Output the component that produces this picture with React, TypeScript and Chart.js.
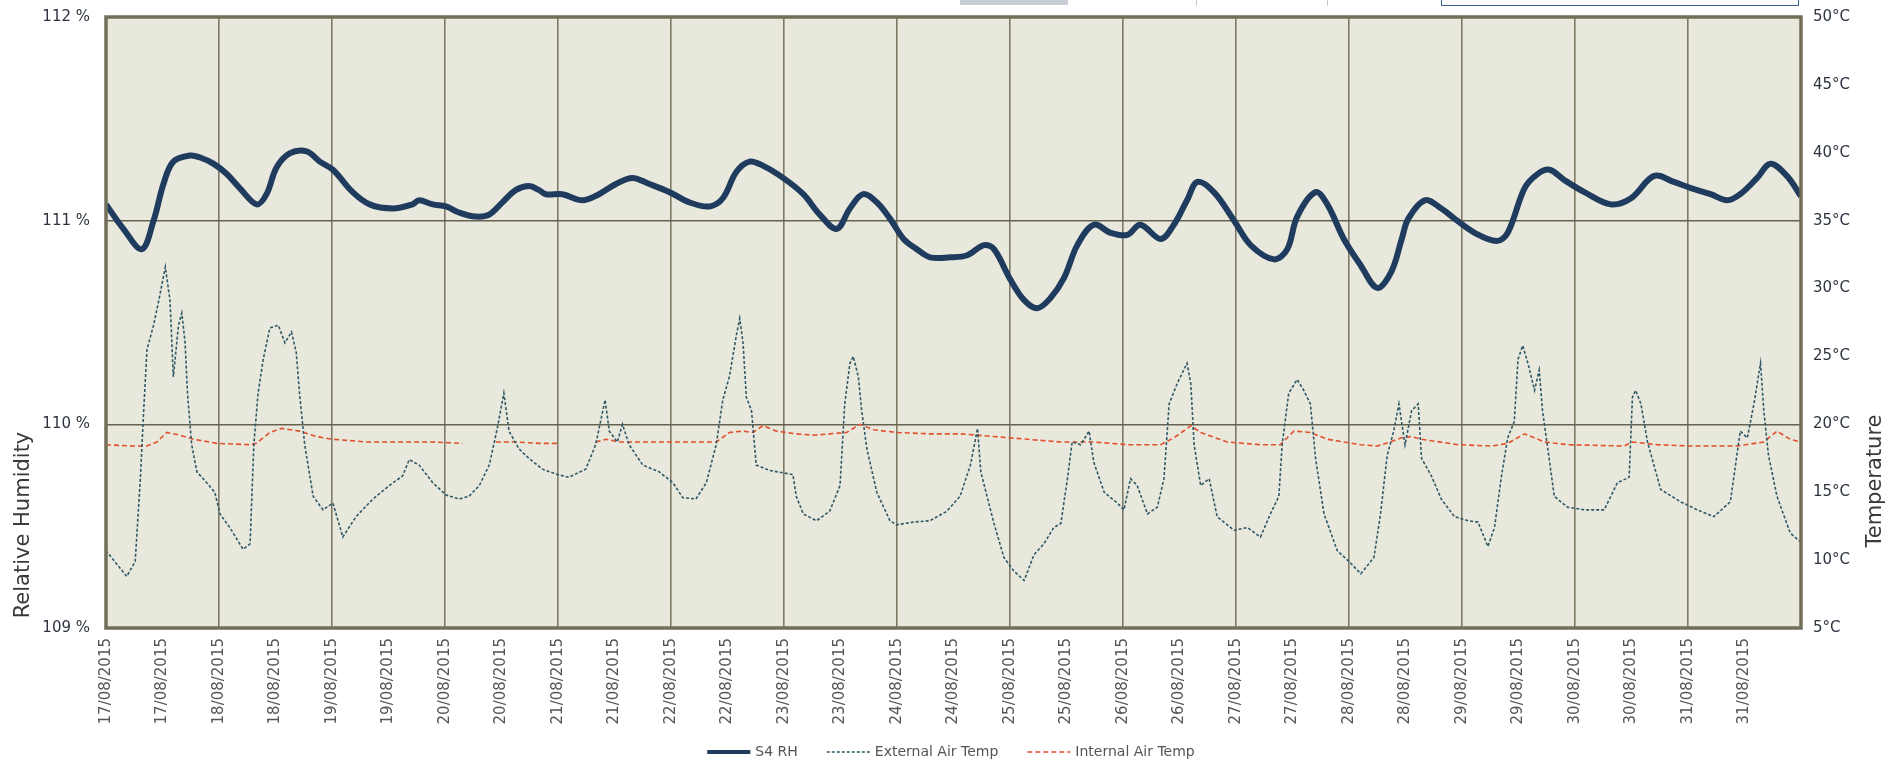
import React, { useEffect, useRef } from 'react';
import { Chart, registerables } from 'chart.js';

Chart.register(...registerables);

// Day labels (each appears at 00:00 and 12:00)
const dayLabels = [
  '17/08/2015', '18/08/2015', '19/08/2015', '20/08/2015', '21/08/2015',
  '22/08/2015', '23/08/2015', '24/08/2015', '25/08/2015', '26/08/2015',
  '27/08/2015', '28/08/2015', '29/08/2015', '30/08/2015', '31/08/2015',
];

const rhTicks = [109, 110, 111, 112];
const tempTicks = [5, 10, 15, 20, 25, 30, 35, 40, 45, 50];

// S4 RH (hours since 17/08/2015 00:00, %)
const rhHours = [
  0, 3.7, 7.6, 10.1, 12.2, 14.3, 17.9, 20, 22.8, 25.6, 28.4, 32, 34.1, 36.2, 39, 42.6, 45.4, 48.2,
  52.4, 56, 60.9, 65.1, 66.5, 69.4, 72.2, 75, 78.5, 81.4, 84.2, 87, 89.8, 92, 93.4, 96.9, 101.2,
  104.7, 108.3, 111.8, 115.4, 119.7, 123.9, 128.2, 131, 133.9, 136.7, 139.5, 143.8, 148.1, 151.6,
  155.2, 158, 160.8, 163.7, 166.5, 169.4, 172.2, 175, 179.3, 182.9, 186.5, 188.6, 192.1, 195,
  197.8, 200.6, 203.5, 206.3, 209.8, 213.4, 216.9, 219.7, 224, 226.8, 229.6, 231.8, 235.3, 239.6,
  243.1, 248.1, 250.9, 253, 256.9, 259.4, 262.9, 266.5, 270, 273, 275.2, 276.6, 280.1, 283.6,
  286.4, 290.7, 295.3, 297.7, 301.3, 304.1, 306.6, 309.7, 314, 319.6, 323.9, 328.8, 333, 336.6,
  340.8, 344.3, 347.1, 350.7, 353.5, 357, 360,
];
const rhValues = [
  111.08, 110.96, 110.86, 111.0, 111.18, 111.29, 111.32, 111.31, 111.28, 111.23, 111.16, 111.08,
  111.13, 111.26, 111.33, 111.34, 111.29, 111.25, 111.14, 111.08, 111.06, 111.08, 111.1, 111.08,
  111.07, 111.04, 111.02, 111.03, 111.09, 111.15, 111.17, 111.15, 111.13, 111.13, 111.1, 111.13,
  111.18, 111.21, 111.18, 111.14, 111.09, 111.07, 111.11, 111.24, 111.29, 111.27, 111.21, 111.13,
  111.03, 110.96, 111.06, 111.13, 111.09, 111.01, 110.91, 110.86, 110.82, 110.82, 110.83, 110.88,
  110.86, 110.71, 110.61, 110.57, 110.62, 110.72, 110.88, 110.98, 110.94, 110.93, 110.98, 110.91,
  110.98, 111.1, 111.19, 111.14, 111.0, 110.88, 110.81, 110.86, 111.02, 111.14, 111.08, 110.91,
  110.78, 110.67, 110.75, 110.91, 111.01, 111.1, 111.06, 111.01, 110.94, 110.9, 110.94, 111.16,
  111.23, 111.25, 111.2, 111.14, 111.08, 111.11, 111.22, 111.19, 111.16, 111.13, 111.1, 111.13,
  111.21, 111.28, 111.22, 111.12,
];

// External Air Temp (hours, °C)
const extHours = [
  0, 2.3, 4.4, 6.2, 7.3, 8.0, 8.7, 10.1, 11.2, 12.6, 13.6, 14.3, 15.4, 16.1, 16.8, 17.3, 18.2, 19.3,
  21.4, 23.1, 24.2, 26.3, 29.1, 30.6, 31.4, 32.3, 33.4, 34.8, 36.6, 38.0, 39.4, 40.4, 41.1, 42.2,
  44.0, 46.1, 48.2, 50.3, 53.1, 56.7, 60.2, 63.0, 64.4, 66.5, 69.4, 72.2, 75.0, 77.1, 79.3, 81.4,
  83.1, 84.5, 85.6, 87.7, 89.8, 92.7, 95.9, 98.3, 101.9, 104.0, 106.0, 106.9, 108.6, 109.7, 111.1,
  114.0, 117.5, 120.4, 122.5, 125.3, 127.5, 129.6, 131.0, 132.4, 133.9, 134.6, 135.3, 136.0, 137.1,
  138.1, 141.0, 145.9, 146.6, 148.1, 150.9, 153.7, 155.9, 156.9, 158.0, 158.7, 159.8, 160.5, 161.6,
  163.7, 166.5, 167.9, 171.5, 175.0, 178.6, 181.4, 183.6, 185.1, 185.8, 188.6, 190.7, 192.8, 195.0,
  197.1, 199.2, 201.3, 202.8, 204.2, 205.2, 207.0, 208.8, 209.8, 212.0, 214.8, 216.2, 217.6, 219.0,
  221.2, 223.3, 224.7, 225.8, 227.5, 229.6, 230.4, 231.1, 232.5, 234.3, 236.0, 239.6, 242.4, 245.2,
  247.3, 249.1, 249.8, 251.2, 253.0, 254.4, 255.8, 256.9, 258.7, 261.5, 264.0, 266.5, 269.3, 270.7,
  272.1, 273.5, 274.6, 275.9, 277.3, 278.7, 279.4, 281.5, 283.6, 286.4, 289.3, 291.4, 293.5, 294.9,
  296.3, 297.7, 299.1, 299.9, 300.9, 302.0, 303.4, 304.4, 305.1, 305.9, 307.6, 310.4, 314.0, 318.2,
  321.0, 323.5, 324.2, 324.9, 326.0, 327.4, 330.2, 334.4, 338.0, 341.5, 345.0, 347.1, 348.6, 350.0,
  351.4, 352.1, 353.1, 354.9, 357.7, 360,
];
const extValues = [
  10.7, 9.7, 8.8, 9.9, 16.0, 21.0, 25.5, 27.3, 29.1, 31.6, 29.1, 23.5, 27.3, 28.2, 26.0, 22.3, 18.5,
  16.5, 15.7, 15.0, 13.4, 12.4, 10.8, 11.2, 18.5, 22.3, 24.8, 27.1, 27.3, 26.0, 26.8, 25.3, 22.3,
  18.5, 14.7, 13.7, 14.2, 11.7, 13.2, 14.5, 15.5, 16.2, 17.4, 17.0, 15.7, 14.8, 14.5, 14.7, 15.5,
  17.0, 19.7, 22.3, 19.5, 18.2, 17.5, 16.7, 16.3, 16.1, 16.7, 18.5, 21.8, 19.5, 18.7, 20.0, 18.5,
  17.0, 16.5, 15.7, 14.6, 14.5, 15.7, 18.5, 21.8, 23.5, 26.6, 27.8, 26.0, 22.0, 21.0, 17.0, 16.6,
  16.3, 14.7, 13.4, 12.9, 13.6, 15.5, 21.5, 24.5, 25.0, 23.5, 21.0, 18.2, 15.0, 12.9, 12.6, 12.8,
  12.9, 13.6, 14.7, 17.0, 19.7, 16.5, 12.7, 10.2, 9.2, 8.5, 10.4, 11.2, 12.4, 12.7, 16.0, 18.7,
  18.5, 19.5, 17.2, 15.0, 14.2, 13.7, 16.0, 15.5, 13.4, 13.9, 16.0, 21.5, 23.0, 24.5, 23.0, 18.5,
  15.5, 16.0, 13.2, 12.2, 12.4, 11.7, 13.4, 14.7, 18.5, 22.3, 23.3, 22.5, 21.5, 17.5, 13.4, 10.7,
  9.9, 9.0, 10.2, 13.4, 17.7, 19.5, 21.5, 18.5, 21.0, 21.5, 17.5, 16.2, 14.5, 13.2, 12.9, 12.8,
  11.0, 12.4, 16.0, 19.0, 20.2, 24.8, 25.8, 24.5, 22.5, 24.0, 21.0, 19.0, 14.7, 13.9, 13.7, 13.7,
  15.7, 16.1, 22.0, 22.5, 21.5, 18.7, 15.2, 14.3, 13.7, 13.2, 14.3, 19.5, 19.0, 21.5, 24.5, 21.0,
  17.7, 14.7, 12.0, 11.3,
];

// Internal Air Temp (hours, °C) - null marks logging gaps
const intHours = [
  0, 5.9, 8.7, 10.8, 12.9, 15.7, 18.6, 23.5, 30.6, 31.9, 34.8, 37.3, 41.1, 44.7, 48.2, 55.3, 62.3,
  69.4, 75.7, 76.5, 82.8, 87.0, 92.0, 96.2, 100, 104.0, 106.2, 109.0, 113.3, 119.7, 126.8, 129.6,
  132.4, 135.3, 137.4, 139.5, 142.4, 146.6, 150.2, 153.7, 157.3, 160.1, 163.0, 167.9, 175.0, 181.5,
  188.6, 195.7, 202.8, 209.8, 216.9, 224.0, 226.8, 230.4, 232.5, 238.1, 245.2, 249.4, 252.3, 255.8,
  259.4, 266.5, 270.0, 272.8, 275.0, 277.3, 279.4, 287.2, 294.2, 297.7, 301.3, 305.5, 310.6, 322.4,
  324.2, 329.5, 336.6, 346.4, 352.1, 354.9, 357.7, 360,
];
const intValues = [
  18.5, 18.4, 18.4, 18.7, 19.4, 19.2, 18.9, 18.6, 18.5, 18.6, 19.4, 19.7, 19.5, 19.1, 18.9, 18.7,
  18.7, 18.7, 18.6, null, 18.7, 18.7, 18.6, 18.6, null, 18.7, 18.9, 18.7, 18.7, 18.7, 18.7, 18.7,
  19.4, 19.5, 19.4, 19.9, 19.5, 19.3, 19.2, 19.3, 19.4, 20.0, 19.6, 19.4, 19.3, 19.3, 19.1, 18.9,
  18.7, 18.7, 18.5, 18.5, 19.0, 19.9, 19.4, 18.7, 18.5, 18.5, 19.5, 19.4, 18.9, 18.5, 18.4, 18.7,
  19.0, 19.1, 18.9, 18.5, 18.4, 18.6, 19.3, 18.7, 18.5, 18.4, 18.7, 18.5, 18.4, 18.4, 18.7, 19.5,
  18.9, 18.7,
];

const FONT = '"DejaVu Sans", Verdana, sans-serif';

const toPoints = (xs: number[], ys: (number | null)[]) => xs.map((x, i) => ({ x, y: ys[i] }));

export default function App() {
  const ref = useRef<HTMLCanvasElement>(null);

  useEffect(() => {
    if (!ref.current) return;

    const framePlugin = {
      id: 'frame',
      beforeDraw(chart: any) {
        const { ctx, chartArea: a } = chart;
        ctx.save();
        ctx.fillStyle = '#e9e8dd';
        ctx.fillRect(a.left, a.top, a.right - a.left, a.bottom - a.top);
        ctx.restore();
      },
      afterDraw(chart: any) {
        const { ctx, chartArea: a } = chart;
        ctx.save();
        ctx.strokeStyle = '#726e59';
        ctx.lineWidth = 3.5;
        ctx.strokeRect(a.left, a.top, a.right - a.left, a.bottom - a.top);
        ctx.restore();

        // axis titles
        const title = (text: string, x: number, y: number) => {
          ctx.save();
          ctx.fillStyle = '#3a3a3a';
          ctx.font = `21px ${FONT}`;
          ctx.textAlign = 'center';
          ctx.textBaseline = 'middle';
          ctx.translate(x, y);
          ctx.rotate(-Math.PI / 2);
          ctx.fillText(text, 0, 0);
          ctx.restore();
        };
        title('Relative Humidity', 24, 525);
        title('Temperature', 1876, 481);

        // legend
        ctx.save();
        ctx.font = `14px ${FONT}`;
        ctx.textBaseline = 'middle';
        const lineLen = 43;
        const gapText = 5;
        const gapItem = 29;
        const ds = chart.data.datasets;
        const widths = ds.map((d: any) => lineLen + gapText + ctx.measureText(d.label).width);
        const total = widths.reduce((s: number, w: number) => s + w, 0) + gapItem * (ds.length - 1);
        let x = 951 - total / 2;
        const y = 752;
        ds.forEach((d: any, i: number) => {
          ctx.save();
          ctx.strokeStyle = d.borderColor;
          ctx.lineWidth = Math.min(d.borderWidth, 4);
          ctx.setLineDash(d.borderDash || []);
          ctx.beginPath();
          ctx.moveTo(x, y);
          ctx.lineTo(x + lineLen, y);
          ctx.stroke();
          ctx.restore();
          ctx.fillStyle = '#555';
          ctx.fillText(d.label, x + lineLen + gapText, y);
          x += widths[i] + gapItem;
        });
        ctx.restore();
      },
    };

    const chart = new Chart(ref.current, {
      type: 'line',
      data: {
        datasets: [
          {
            label: 'S4 RH',
            data: toPoints(rhHours, rhValues),
            yAxisID: 'y',
            borderColor: '#1f3b5e',
            backgroundColor: '#1f3b5e',
            borderWidth: 6,
            pointRadius: 0,
            tension: 0.35,
          },
          {
            label: 'External Air Temp',
            data: toPoints(extHours, extValues),
            yAxisID: 'y1',
            borderColor: '#2f5866',
            backgroundColor: '#2f5866',
            borderWidth: 1.6,
            borderDash: [3, 2],
            pointRadius: 0,
            tension: 0,
          },
          {
            label: 'Internal Air Temp',
            data: toPoints(intHours, intValues),
            yAxisID: 'y1',
            borderColor: '#e2502c',
            backgroundColor: '#e2502c',
            borderWidth: 1.6,
            borderDash: [5, 3],
            pointRadius: 0,
            tension: 0,
            spanGaps: false,
          },
        ],
      },
      options: {
        animation: false,
        responsive: true,
        maintainAspectRatio: false,
        layout: { padding: { top: 17, left: 0, right: 0, bottom: 0 } },
        plugins: {
          legend: { display: false },
          tooltip: { enabled: false },
        },
        scales: {
          x: {
            type: 'linear',
            min: 0,
            max: 360,
            afterBuildTicks: (s: any) => {
              s.ticks = Array.from({ length: 31 }, (_, i) => ({ value: i * 12 }));
            },
            afterFit: (s: any) => {
              s.height = 134;
            },
            border: { display: false },
            grid: {
              drawTicks: false,
              lineWidth: 1.6,
              color: (c: any) =>
                c.tick && c.tick.value % 24 === 0 && c.tick.value > 0 && c.tick.value < 360
                  ? '#7e7a66'
                  : 'rgba(0,0,0,0)',
            },
            ticks: {
              autoSkip: false,
              maxRotation: 90,
              minRotation: 90,
              padding: 10,
              color: '#555',
              font: { family: FONT, size: 15 },
              callback: (v: any) => (v < 360 ? dayLabels[Math.floor(v / 24)] : null),
            },
          },
          y: {
            position: 'left',
            min: 109,
            max: 112,
            afterBuildTicks: (s: any) => {
              s.ticks = rhTicks.map((value) => ({ value }));
            },
            afterFit: (s: any) => {
              s.width = 106;
              s.paddingTop = 0;
              s.paddingBottom = 0;
            },
            border: { display: false },
            grid: { drawTicks: false, lineWidth: 1.6, color: '#66624f' },
            ticks: {
              padding: 16,
              color: '#2d3440',
              font: { family: FONT, size: 15 },
              callback: (v: any) => `${v} %`,
            },
          },
          y1: {
            position: 'right',
            min: 5,
            max: 50,
            afterBuildTicks: (s: any) => {
              s.ticks = tempTicks.map((value) => ({ value }));
            },
            afterFit: (s: any) => {
              s.width = 98;
              s.paddingTop = 0;
              s.paddingBottom = 0;
            },
            border: { display: false },
            grid: { drawOnChartArea: false, drawTicks: false },
            ticks: {
              padding: 12,
              color: '#2d3440',
              font: { family: FONT, size: 15 },
              callback: (v: any) => `${v}°C`,
            },
          },
        },
      },
      plugins: [framePlugin],
    } as any);

    return () => chart.destroy();
  }, []);

  return (
    <div style={{ position: 'fixed', left: 0, top: 0, width: 1899, height: 762, background: '#ffffff' }}>
      <canvas ref={ref} />
      <div style={{ position: 'absolute', left: 960, top: 0, width: 108, height: 5, background: '#c9cdd6' }} />
      <div style={{ position: 'absolute', left: 1196, top: 0, width: 1, height: 6, background: '#c8c8c8' }} />
      <div style={{ position: 'absolute', left: 1327, top: 0, width: 1, height: 6, background: '#c8c8c8' }} />
      <div
        style={{
          position: 'absolute',
          left: 1441,
          top: -2,
          width: 358,
          height: 8,
          border: '1px solid #3f5f8c',
          boxSizing: 'border-box',
        }}
      />
    </div>
  );
}
